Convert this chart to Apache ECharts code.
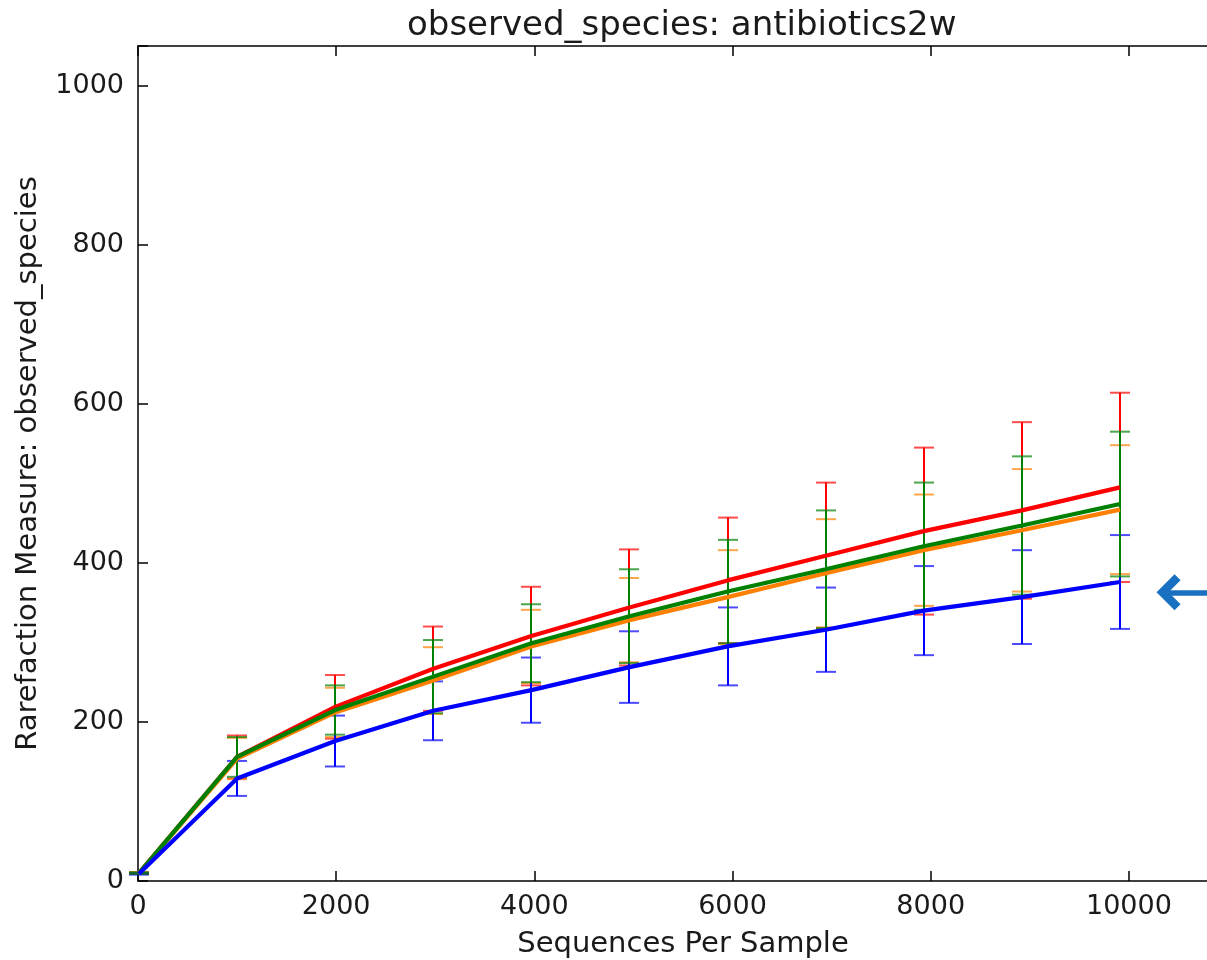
<!DOCTYPE html>
<html>
<head>
<meta charset="utf-8">
<script src="https://cdn.jsdelivr.net/npm/echarts@6/dist/echarts.min.js"></script>
<style>
  html, body { margin: 0; padding: 0; background: #fff; }
  #main { width: 1207px; height: 960px; }
</style>
</head>
<body>
<div id="main"></div>
<script>
// rarefaction depths (x)
var depths = [10, 1000, 1990, 2980, 3970, 4960, 5950, 6940, 7930, 8920, 9910];

// mean observed species + std dev per group
var redMean = [10, 156, 219, 267, 308, 344, 378, 409, 440, 466, 495];
var redSd = [1, 27, 40, 53, 62, 73, 79, 92, 105, 111, 119];
var orangeMean = [10, 154, 212, 252, 295, 328, 357, 387, 416, 441, 467];
var orangeSd = [1, 26, 31, 42, 46, 53, 59, 68, 70, 77, 81];
var greenMean = [10, 156, 215, 257, 299, 333, 364, 392, 421, 447, 474];
var greenSd = [1, 25, 31, 46, 49, 59, 65, 74, 80, 87, 91];
var blueMean = [9, 129, 176, 214, 240, 269, 295, 316, 340, 357, 376];
var blueSd = [1, 22, 32, 37, 41, 45, 49, 53, 56, 59, 59];

var xTicks = [0, 2000, 4000, 6000, 8000, 10000];
var yTicks = [0, 200, 400, 600, 800, 1000];

// arrow annotation (points left at the blue curve end)
var arrowY = 363;
var arrowFromX = 11000;
var arrowToX = 10400;

var FONT = "DejaVu Sans";

var chart = echarts.init(document.getElementById("main"));

function pairs(mean) {
  return depths.map(function(d, i) {
    return [d, mean[i]];
  });
}

function bars(mean, sd) {
  return depths.map(function(d, i) {
    return [d, mean[i] - sd[i], mean[i] + sd[i]];
  });
}

function errorSeries(name, color, mean, sd, z) {
  return {
    name: name,
    type: "custom",
    z: z,
    silent: true,
    renderItem: function(params, api) {
      var x = api.value(0);
      var lo = api.coord([x, api.value(1)]);
      var hi = api.coord([x, api.value(2)]);
      var px = Math.round(lo[0]); // snap so stacked stems don't blend
      var half = 10;
      var stem = { stroke: color, lineWidth: 2 };
      var cap = { stroke: color, lineWidth: 2, opacity: 0.7 };
      return {
        type: "group",
        children: [
          { type: "line", shape: { x1: px, y1: lo[1], x2: px, y2: hi[1] }, style: stem },
          { type: "line", shape: { x1: px - half, y1: hi[1], x2: px + half, y2: hi[1] }, style: cap },
          { type: "line", shape: { x1: px - half, y1: lo[1], x2: px + half, y2: lo[1] }, style: cap }
        ]
      };
    },
    encode: { x: 0, y: [1, 2] },
    data: bars(mean, sd)
  };
}

function lineSeries(name, color, mean, z) {
  return {
    name: name,
    type: "line",
    z: z,
    symbol: "none",
    animation: false,
    lineStyle: { color: color, width: 4.2 },
    data: pairs(mean)
  };
}

var inTick = { show: true, inside: true, length: 10, lineStyle: { color: "#000", width: 1.5 } };

var option = {
  animation: false,
  title: {
    text: "observed_species: antibiotics2w",
    left: 402,
    top: 4,
    textStyle: { fontFamily: FONT, fontSize: 34, fontWeight: "normal", color: "#1a1a1a" }
  },
  grid: { left: 138, top: 46, width: 1090, height: 835, outerBoundsMode: "none", containLabel: false },
  xAxis: [
    {
      type: "value",
      min: 0,
      max: 11000,
      interval: 2000,
      name: "Sequences Per Sample",
      nameLocation: "middle",
      nameGap: 49,
      nameTextStyle: { fontFamily: FONT, fontSize: 29, color: "#1a1a1a" },
      axisLine: { onZero: false, lineStyle: { color: "#000", width: 1.5 } },
      axisTick: inTick,
      splitLine: { show: false },
      axisLabel: {
        fontFamily: FONT,
        fontSize: 27,
        color: "#1a1a1a",
        margin: 12,
        formatter: function(v) {
          return xTicks.indexOf(v) >= 0 ? String(v) : "";
        }
      }
    },
    {
      type: "value",
      position: "top",
      min: 0,
      max: 11000,
      interval: 2000,
      axisLine: { show: true, onZero: false, lineStyle: { color: "#000", width: 1.5 } },
      axisTick: inTick,
      axisLabel: { show: false },
      splitLine: { show: false }
    }
  ],
  yAxis: [
    {
      type: "value",
      min: 0,
      max: 1050,
      interval: 200,
      name: "Rarefaction Measure: observed_species",
      nameLocation: "middle",
      nameGap: 95,
      nameTextStyle: { fontFamily: FONT, fontSize: 29, color: "#1a1a1a" },
      axisLine: { show: true, onZero: false, lineStyle: { color: "#000", width: 1.5 } },
      axisTick: inTick,
      splitLine: { show: false },
      axisLabel: {
        fontFamily: FONT,
        fontSize: 27,
        color: "#1a1a1a",
        margin: 14,
        formatter: function(v) {
          return yTicks.indexOf(v) >= 0 ? String(v) : "";
        }
      }
    }
  ],
  series: [
    errorSeries("red err", "#ff0000", redMean, redSd, 2),
    errorSeries("orange err", "#ff8000", orangeMean, orangeSd, 2),
    errorSeries("blue err", "#0000ff", blueMean, blueSd, 2),
    errorSeries("green err", "#008000", greenMean, greenSd, 2),
    lineSeries("red", "#ff0000", redMean, 3),
    lineSeries("orange", "#ff8000", orangeMean, 3),
    lineSeries("green", "#008000", greenMean, 3),
    lineSeries("blue", "#0000ff", blueMean, 3),
    {
      name: "arrow",
      type: "line",
      symbol: "none",
      data: [],
      markLine: {
        silent: true,
        animation: false,
        symbol: ["none", "path://M15,0 L30,15 L25,20 L15,10 L5,20 L0,15 Z"],
        symbolSize: [36, 24],
        label: { show: false },
        lineStyle: { color: "#1770c0", width: 5.5, type: "solid", opacity: 1 },
        itemStyle: { color: "#1770c0" },
        data: [[{ coord: [arrowFromX, arrowY] }, { coord: [arrowToX, arrowY] }]]
      }
    }
  ]
};

chart.setOption(option);
</script>
</body>
</html>
